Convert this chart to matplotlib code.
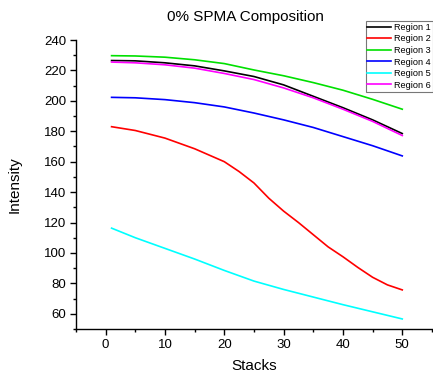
import matplotlib
matplotlib.use("Agg")
import matplotlib.pyplot as plt
from matplotlib.ticker import MultipleLocator

plt.rcParams['font.family'] = ['Liberation Sans', 'DejaVu Sans']

stacks = [1, 5, 10, 15, 20, 25, 30, 35, 40, 45, 50]
region1 = [226.5, 226.3, 225.0, 223.0, 219.7, 216.0, 210.5, 203.0, 195.5, 187.5, 178.5]
region3 = [229.7, 229.5, 228.7, 227.0, 224.5, 220.3, 216.5, 212.0, 207.0, 201.0, 194.5]
region4 = [202.3, 202.0, 200.8, 198.8, 196.0, 192.0, 187.5, 182.5, 176.5, 170.5, 163.8]
region5 = [116.3, 110.0, 103.0, 96.0, 88.5, 81.5, 76.0, 71.0, 66.0, 61.3, 56.6]
region6 = [225.5, 225.0, 223.7, 221.5, 218.0, 214.0, 208.5, 202.0, 194.5, 186.5, 177.2]

stacks_r2 = [1, 5, 10, 15, 20, 22.5, 25, 27.5, 30, 32.5, 35, 37.5, 40, 42.5, 45, 47.5, 50]
region2 = [183.0, 180.5, 175.5, 168.5, 160.0, 153.5, 146.0, 136.0, 127.5, 120.0, 112.0,
           104.0, 97.5, 90.5, 84.0, 79.0, 75.7]

labels = ["Region 1", "Region 2", "Region 3", "Region 4", "Region 5", "Region 6"]
colors = ["#000000", "#ff0000", "#00e000", "#0000ff", "#00ffff", "#ff00ff"]
xs = [stacks, stacks_r2, stacks, stacks, stacks, stacks]
series = [region1, region2, region3, region4, region5, region6]

fig = plt.figure(figsize=(4.33, 3.81), dpi=100)
ax = fig.add_axes([0.1755, 0.1365, 0.822, 0.7585])

for x, y, lab, c in zip(xs, series, labels, colors):
    ax.plot(x, y, color=c, lw=1.2, label=lab)

ax.set_xlim(-5, 55)
ax.set_ylim(50, 240)
ax.xaxis.set_major_locator(MultipleLocator(10))
ax.xaxis.set_minor_locator(MultipleLocator(5))
ax.yaxis.set_major_locator(MultipleLocator(20))
ax.yaxis.set_minor_locator(MultipleLocator(10))
for s in ['top', 'right']:
    ax.spines[s].set_visible(False)
for s in ['left', 'bottom']:
    ax.spines[s].set_linewidth(1.0)
ax.tick_params(which='major', direction='out', length=4, width=1, labelsize=9.5, pad=3)
ax.tick_params(which='minor', direction='out', length=2.5, width=1)

ax.set_xlabel("Stacks", fontsize=11, labelpad=6)
ax.set_ylabel("Intensity", fontsize=11)
ax.yaxis.set_label_coords(-(76 - 22) / 356, 0.5)
fig.text(245 / 433, 1 - 17 / 381, "0% SPMA Composition", fontsize=11, ha='center', va='center')

leg = ax.legend(loc='upper right', bbox_to_anchor=(0.999, 1 - 21 / 381), bbox_transform=fig.transFigure,
                fontsize=6.6, fancybox=False, framealpha=1, edgecolor='#777777',
                handlelength=2.6, handletextpad=0.3, borderpad=0.2, labelspacing=0.28,
                borderaxespad=0)
leg.get_frame().set_linewidth(0.8)

fig.savefig("out.png", dpi=100)
